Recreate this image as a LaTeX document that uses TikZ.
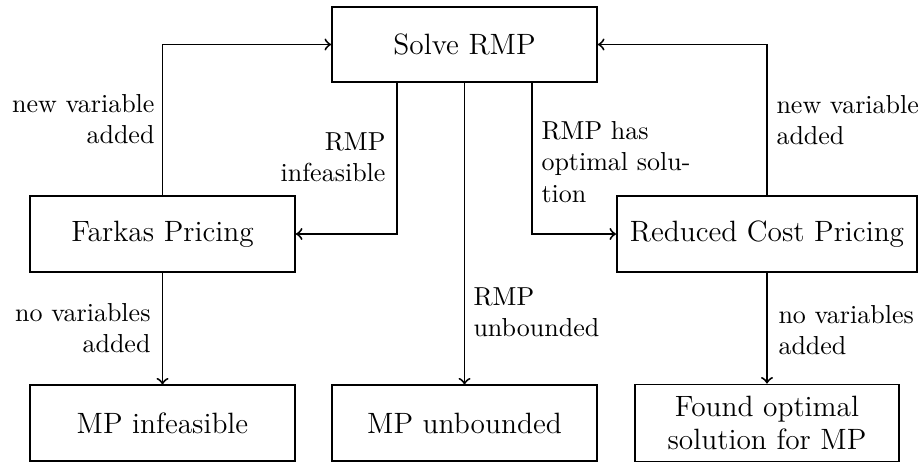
\documentclass[tikz,border=0pt]{standalone}
\usetikzlibrary{positioning}
\begin{document}
\begin{tikzpicture}[x=0.3846pt,y=-0.3846pt,
  box/.style={draw,line width=0.75pt,minimum width=101.9pt,minimum height=28.9pt,align=center,inner sep=2pt,font=\fontsize{11.3}{13}\selectfont},
  lbl/.style={inner sep=0pt,font=\fontsize{10}{12}\selectfont},
  conn/.style={->,line width=0.75pt}]
\useasboundingbox (0,0) rectangle (921,462);
\node[box] (solve) at (464.5,44.5) {Solve RMP};
\node[box] (farkas) at (162.5,234) {Farkas Pricing};
\node[box,minimum width=115.4pt] (reduced) at (767,234) {Reduced Cost Pricing};
\node[box] (mpinf) at (162.5,423) {MP infeasible};
\node[box] (mpunb) at (464.5,423) {MP unbounded};
\node[box,minimum width=101.2pt,minimum height=29.6pt] (found) at (767,423) {Found optimal\\solution for MP};

\draw[conn] ([xshift=-26pt]solve.south) |- (farkas);
\draw[conn] (solve) -- (mpunb);
\draw[conn] ([xshift=26pt]solve.south) |- (reduced);
\draw[conn] (farkas) |- (solve);
\draw[conn] (reduced) |- (solve);
\draw[conn] (farkas) -- (mpinf);
\draw[conn] (reduced) -- (found);

\node[lbl,anchor=east,align=right] (l1) at (155,119) {new variable\\added};
\node[lbl,anchor=east,align=right] (l2) at (386,157) {RMP\\infeasible};
\node[lbl,anchor=west,align=left] (l3) at (541,162) {RMP has\\optimal solu-\\tion};
\node[lbl,anchor=west,align=left] (l4) at (776,120) {new variable\\added};
\node[lbl,anchor=east,align=right] (l5) at (151,328) {no variables\\added};
\node[lbl,anchor=west,align=left] (l6) at (473,312) {RMP\\unbounded};
\node[lbl,anchor=west,align=left] (l7) at (778,330) {no variables\\added};
\end{tikzpicture}
\end{document}
